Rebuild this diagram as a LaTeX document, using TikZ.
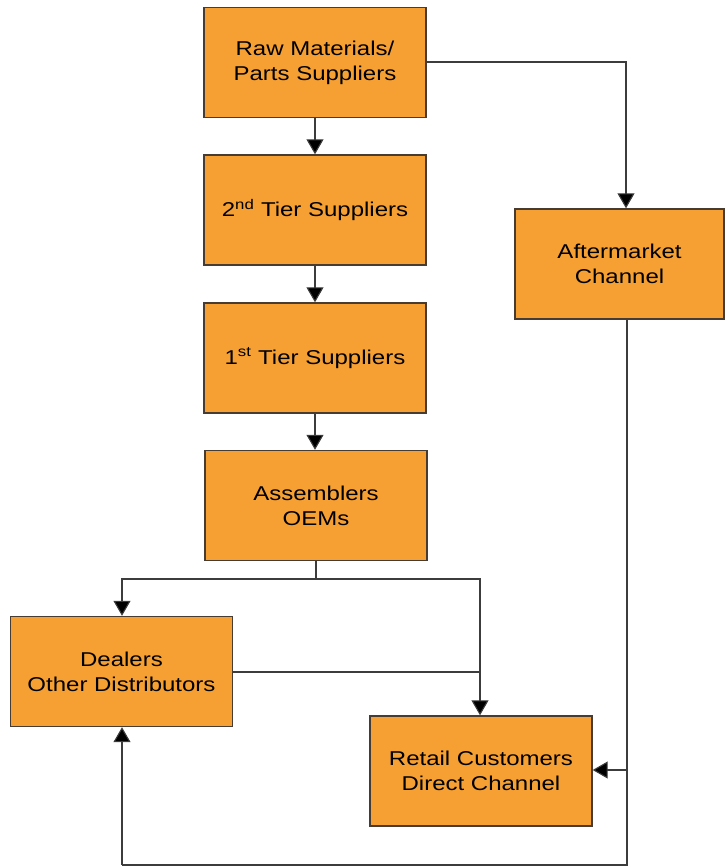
\documentclass[tikz,border=0pt]{standalone}
\usepackage{fontspec}
\setmainfont{Liberation Sans}[FakeStretch=1.2]
\usetikzlibrary{arrows.meta}
\definecolor{boxfill}{RGB}{246,160,52}
\definecolor{boxline}{RGB}{70,60,50}
\definecolor{wire}{RGB}{60,60,60}
\begin{document}
\begin{tikzpicture}[x=1pt,y=-1pt,
  block/.style={draw=boxline,line width=1.4pt,fill=boxfill,
    minimum width=222pt,minimum height=110pt,inner sep=0pt,
    align=center,font=\fontsize{20}{25}\selectfont,text=black},
  flow/.style={draw=wire,line width=1.1pt,
    -{Triangle[width=17pt,length=15pt,fill=black]}},
  plain/.style={draw=wire,line width=1.1pt}]
\useasboundingbox (0,0) rectangle (725,867);

% supply chain boxes
\node[block] (raw)   at (315,62.5)  {Raw Materials/\\Parts Suppliers};
\node[block] (tier2) at (315,210)   {2\textsuperscript{nd} Tier Suppliers};
\node[block] (tier1) at (315,358)   {1\textsuperscript{st} Tier Suppliers};
\node[block] (oem)   at (316,505.5) {Assemblers\\OEMs};
\node[block,minimum width=209pt] (after) at (619.5,264) {Aftermarket\\Channel};
\node[block] (dealer) at (121.5,671.5) {Dealers\\Other Distributors};
\node[block] (retail) at (481,771)    {Retail Customers\\Direct Channel};

% junction points of the routed connectors
\coordinate (split) at (316,579);
\coordinate (down)  at (627,865);

% main chain
\draw[flow] (raw) -- (tier2);
\draw[flow] (tier2) -- (tier1);
\draw[flow] (tier1) -- (oem.north -| tier1);
\draw[flow] (raw.east |- 0,62) -| (after.north -| 626,0);

% OEM output split
\draw[plain] (oem.south) -- (split);
\draw[flow] (split) -| (dealer.north -| 122,0);
\draw[flow] (split) -| (retail.north -| 480,0);
\draw[plain] (dealer.east |- 0,672) -- (480,672);

% aftermarket distribution
\draw[plain] (after.south -| down) -- (down) -- (122,865);
\draw[flow] (122,865) -- (dealer.south -| 122,0);
\draw[flow] (627,770) -- (retail.east |- 0,770);
\end{tikzpicture}
\end{document}
